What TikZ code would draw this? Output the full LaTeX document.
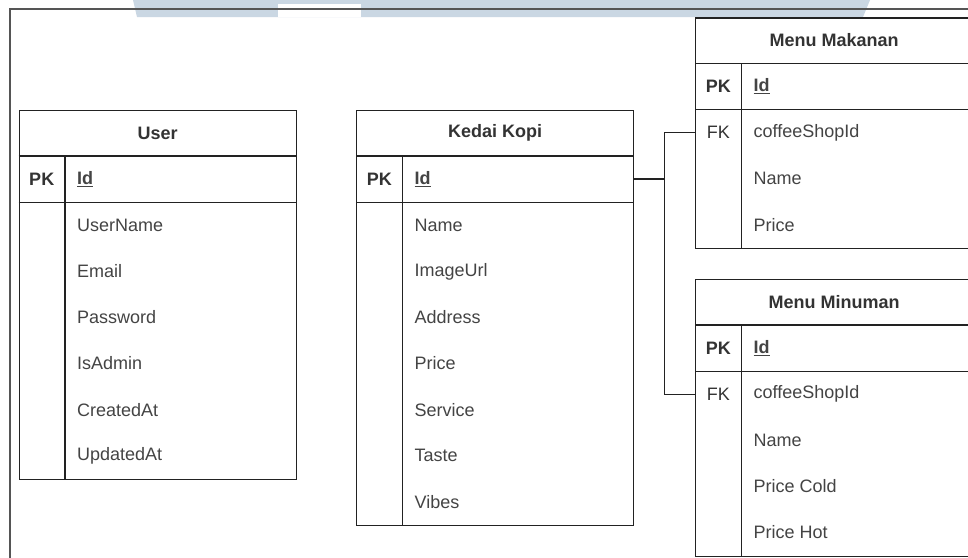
\documentclass[tikz,border=0pt]{standalone}
\usepackage{fontspec}
\setmainfont{Liberation Sans}
\usetikzlibrary{calc}
\definecolor{lineC}{HTML}{222222}
\definecolor{frameC}{HTML}{555555}
\definecolor{wmC}{HTML}{CAD7E3}
\definecolor{txtC}{HTML}{333333}
\definecolor{fldC}{HTML}{444444}
\tikzset{
  tbl/.style={draw=lineC, line width=1.4pt, fill=white, inner sep=0pt, anchor=north west},
  tline/.style={draw=lineC, line width=1.4pt},
  ttl/.style={font=\fontsize{18}{21}\selectfont\bfseries, text=txtC, inner sep=0pt},
  keyt/.style={font=\fontsize{18}{21}\selectfont, text=txtC, inner sep=0pt},
  fldt/.style={font=\fontsize{18}{21}\selectfont, text=fldC, inner sep=0pt, anchor=west},
  conn/.style={draw=lineC, line width=1.4pt},
  framel/.style={draw=frameC, line width=1.2pt},
}
% #1 name, #2 left, #3 top, #4 total rows, #5 title, #6 key/field list
\newcommand\ertab[6]{%
  \node[tbl, minimum width=277pt, minimum height={#4*46.1pt}] (#1) at (#2,#3) {};
  \node[ttl] (#1-t) at ($(#1.north)+(0,23.05)$) {#5};
  \draw[tline] ($(#1.north west)+(0,46.1)$) -- ($(#1.north east)+(0,46.1)$);
  \draw[tline] ($(#1.north west)+(0,92.2)$) -- ($(#1.north east)+(0,92.2)$);
  \draw[tline] ($(#1.north west)+(46.5,46.1)$) -- ($(#1.south west)+(46.5,0)$);
  \foreach \k/\f [count=\i] in {#6} {
    \node[keyt] (#1-k\i) at ($(#1.north west)+(23.25,{46.1*(\i+0.5)})$) {\k};
    \node[fldt] (#1-f\i) at ($(#1.north west)+(58.5,{46.1*(\i+0.5)})$) {\f};
    \coordinate (#1-w\i) at ($(#1.north west)+(0,{46.1*(\i+0.5)})$);
    \coordinate (#1-e\i) at ($(#1.north east)+(0,{46.1*(\i+0.5)})$);
  }%
}
\begin{document}
\begin{tikzpicture}[x=1pt, y=-1pt]
\clip (0,0) rectangle (968,557);
\fill[white] (0,0) rectangle (968,557);
% watermark band
\fill[wmC] (133,0) -- (870,0) -- (863,17) -- (137,17) -- cycle;
\fill[white] (278,4) rectangle (361,17);
% outer frame
\draw[framel] (10,600) -- (10,9) -- (1000,9);
% tables
\ertab{user}{18.5}{110}{8}{User}{{\textbf{PK}}/{\textbf{\underline{Id}}}, /UserName, /Email, /Password, /IsAdmin, /CreatedAt, /UpdatedAt}
\ertab{kedai}{356}{110}{9}{Kedai Kopi}{{\textbf{PK}}/{\textbf{\underline{Id}}}, /Name, /ImageUrl, /Address, /Price, /Service, /Taste, /Vibes}
\ertab{mak}{695}{17.3}{5}{Menu Makanan}{{\textbf{PK}}/{\textbf{\underline{Id}}}, FK/coffeeShopId, /Name, /Price}
\ertab{min}{695}{279}{6}{Menu Minuman}{{\textbf{PK}}/{\textbf{\underline{Id}}}, FK/coffeeShopId, /Name, /Price Cold, /Price Hot}
% connectors
\draw[conn] (kedai-e1) -- ++(30,0) coordinate (jn) |- (mak-w2);
\draw[conn] (jn) |- (min-w2);
\end{tikzpicture}
\end{document}
